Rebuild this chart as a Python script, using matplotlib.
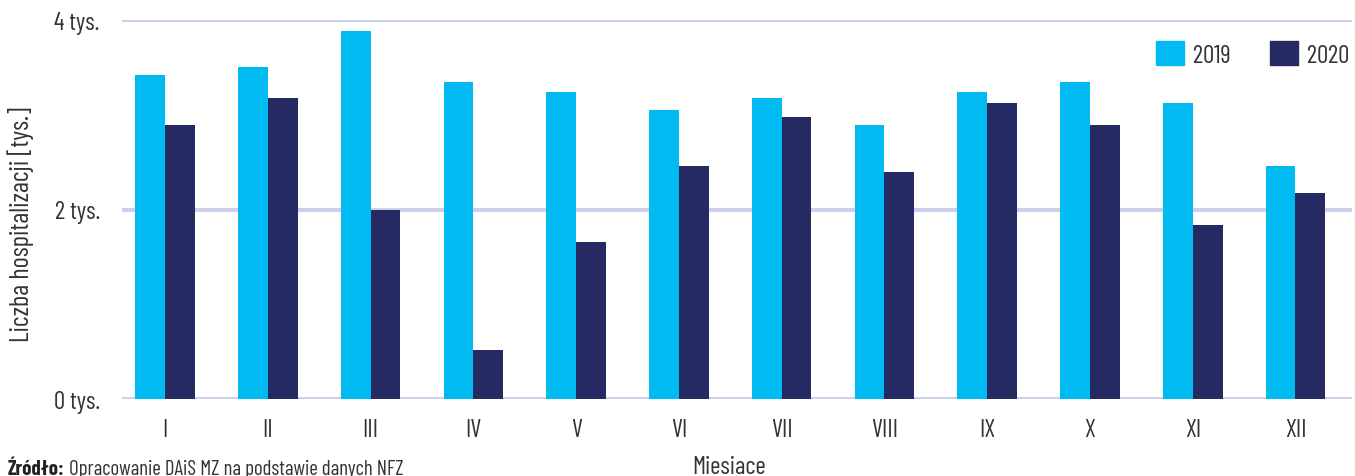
import numpy as np
import matplotlib
matplotlib.use("Agg")
import matplotlib.pyplot as plt
from matplotlib.patches import Patch

plt.rcParams['font.family'] = ['Barlow Condensed', 'Barlow Semi Condensed',
                               'Asap Condensed', 'DejaVu Sans']

months = ["I", "II", "III", "IV", "V", "VI", "VII", "VIII", "IX", "X", "XI", "XII"]
# hospitalizations, thousands
h2019 = [3.42, 3.505, 3.88, 3.35, 3.24, 3.05, 3.18, 2.89, 3.24, 3.35, 3.12, 2.46]
h2020 = [2.89, 3.18, 2.00, 0.52, 1.66, 2.46, 2.98, 2.40, 3.12, 2.89, 1.84, 2.17]
yticks = [0, 2, 4]

C19 = "#00bbf2"
C20 = "#252a63"
GRID = "#cdd0ea"
TXT = "#333333"

fig = plt.figure(figsize=(13.55, 4.77), dpi=100)
ax = fig.add_axes([122 / 1355, 1 - 400 / 477, 1230 / 1355, 379 / 477])

x = np.arange(len(months))
w = 0.29
ax.bar(x - w / 2, h2019, w, color=C19, zorder=3)
ax.bar(x + w / 2, h2020, w, color=C20, zorder=3)

ax.set_xlim(-0.42, 11.55)
ax.set_ylim(0, 4)
ax.set_yticks(yticks)
ax.set_yticklabels([f"{v} tys." for v in yticks])
ax.set_xticks(x)
ax.set_xticklabels(months)
ax.tick_params(axis="both", length=0, labelsize=18, colors=TXT)
ax.tick_params(axis="y", pad=16)
ax.tick_params(axis="x", pad=14)
for s in ax.spines.values():
    s.set_visible(False)
ax.yaxis.grid(True, color=GRID, linewidth=3, zorder=0)
ax.set_axisbelow(True)

fig.text(21 / 1355, 1 - 225 / 477, "Liczba hospitalizacji [tys.]", rotation=90,
         ha="center", va="center", fontsize=19, color=TXT)
fig.text(729 / 1355, 1 - 468 / 477, "Miesiace", ha="center", va="center",
         fontsize=18, color=TXT)
src = fig.text(8 / 1355, 1 - 470 / 477, "Źródło:", ha="left", va="center",
               fontsize=15, fontweight="bold", color="#222222")
ax.annotate(" Opracowanie DAiS MZ na podstawie danych NFZ", xy=(1, 0.5),
            xycoords=src, ha="left", va="center", fontsize=15, color=TXT,
            annotation_clip=False)

handles = [Patch(color=C19, label="2019"), Patch(color=C20, label="2020")]
ax.legend(handles=handles, ncol=2, frameon=False, fontsize=18,
          loc="upper right", bbox_to_anchor=(1.016, 1.004),
          handlelength=1.12, handleheight=1.12, handletextpad=0.35,
          columnspacing=1.6, labelcolor=TXT)

fig.savefig("out.png", dpi=100)
